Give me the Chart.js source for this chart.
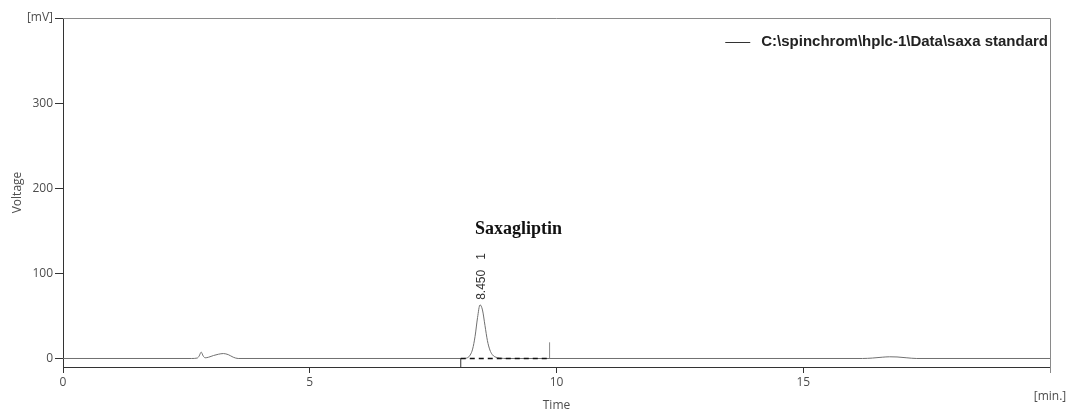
<!DOCTYPE html>
<html>
<head>
<meta charset="utf-8">
<script src="https://cdn.jsdelivr.net/npm/chart.js@4.4.0/dist/chart.umd.min.js"></script>
<style>
    html, body { margin: 0; padding: 0; background: #ffffff; }
    #wrap { width: 1072px; height: 413px; position: relative; }
</style>
</head>
<body>
<div id="wrap"><canvas id="chromato"></canvas></div>
<script>
const traceTime = [0, 2.6, 2.72, 2.76, 2.8, 2.84, 2.88, 2.95, 3.05, 3.15, 3.25, 3.35, 3.45, 3.55,
    8.1, 8.2, 8.25, 8.3, 8.35, 8.4, 8.45, 8.5, 8.55, 8.6, 8.65, 8.7, 8.75, 8.85, 9.0,
    16.2, 16.4, 16.6, 16.75, 16.9, 17.1, 17.3, 20];
const traceMv = [0, 0, 0.5, 3, 7.5, 3, 0.8, 1.5, 3.5, 5, 5.8, 4.5, 1.5, 0,
    0, 1, 4, 11, 26, 48, 63, 57, 39, 21, 10, 4.5, 2, 0.5, 0,
    0, 0.5, 1.5, 2, 1.8, 0.8, 0, 0];
const baselineTime = [8.06, 9.86];
const baselineMv = [0, 0];
const startMarkTime = [8.06, 8.06];
const startMarkMv = [-10, 0];
const endMarkTime = [9.86, 9.86];
const endMarkMv = [0, 19];
const xTicks = [0, 5, 10, 15, 20];
const yTicks = [0, 100, 200, 300, 400];
const peakName = 'Saxagliptin';
const peakTime = 8.45;
const peakLabel = '8.450';
const peakNumber = '1';
const seriesLabel = 'C:\\spinchrom\\hplc-1\\Data\\saxa standard';

const toPoints = (xs, ys) => xs.map((x, i) => ({ x: x, y: ys[i] }));

const tickFont = { family: '"Open Sans", sans-serif', size: 12 };
const tickColor = '#4d4d4d';
const axisColor = '#333333';

// ── Cadre, légende et annotation du pic ─────────────────
const decorPlugin = {
    id: 'decor',
    afterDraw(chart) {
        const ctx = chart.ctx;
        const ca = chart.chartArea;
        const xs = chart.scales.x;
        const ys = chart.scales.y;
        ctx.save();

        // cadre haut / droite
        ctx.strokeStyle = '#8a8a8a';
        ctx.lineWidth = 1;
        ctx.beginPath();
        ctx.moveTo(ca.left, ca.top + 0.5);
        ctx.lineTo(ca.right + 0.5, ca.top + 0.5);
        ctx.lineTo(ca.right + 0.5, ca.bottom + 6);
        ctx.stroke();

        // légende
        ctx.font = 'bold 15px "Liberation Sans", Arial, sans-serif';
        ctx.fillStyle = '#222222';
        ctx.textAlign = 'right';
        ctx.textBaseline = 'middle';
        const textRight = ca.right - 2;
        const ly = ca.top + 24;
        ctx.fillText(seriesLabel, textRight, ly);
        const textLeft = textRight - ctx.measureText(seriesLabel).width;
        ctx.strokeStyle = '#333333';
        ctx.beginPath();
        ctx.moveTo(textLeft - 36, ly + 0.5);
        ctx.lineTo(textLeft - 11, ly + 0.5);
        ctx.stroke();

        // annotation du pic
        const px = xs.getPixelForValue(peakTime);
        const top = ys.getPixelForValue(Math.max(...traceMv));
        ctx.save();
        ctx.translate(px + 2, top - 5);
        ctx.rotate(-Math.PI / 2);
        ctx.font = '12px "Liberation Sans", Arial, sans-serif';
        ctx.fillStyle = '#333333';
        ctx.textAlign = 'left';
        ctx.textBaseline = 'middle';
        ctx.fillText(peakLabel, 0, 0);
        const w = ctx.measureText(peakLabel).width;
        ctx.fillText(peakNumber, w + 10, 0);
        ctx.restore();

        ctx.font = 'bold 18px "Liberation Serif", "Times New Roman", serif';
        ctx.fillStyle = '#111111';
        ctx.textAlign = 'left';
        ctx.textBaseline = 'alphabetic';
        ctx.fillText(peakName, px - 5, top - 71);

        ctx.restore();
    }
};

new Chart(document.getElementById('chromato'), {
    type: 'line',
    data: {
        datasets: [
            {
                label: seriesLabel,
                data: toPoints(traceTime, traceMv),
                borderColor: '#707070',
                borderWidth: 1,
                cubicInterpolationMode: 'monotone',
                pointRadius: 0,
                order: 4
            },
            {
                label: 'baseline',
                data: toPoints(baselineTime, baselineMv),
                borderColor: '#111111',
                borderWidth: 1.5,
                borderDash: [5, 4],
                pointRadius: 0,
                order: 1
            },
            {
                label: 'start',
                data: toPoints(startMarkTime, startMarkMv),
                borderColor: '#333333',
                borderWidth: 1,
                pointRadius: 0,
                clip: false,
                order: 2
            },
            {
                label: 'end',
                data: toPoints(endMarkTime, endMarkMv),
                borderColor: '#8a8a8a',
                borderWidth: 1,
                pointRadius: 0,
                order: 3
            }
        ]
    },
    options: {
        animation: false,
        responsive: true,
        maintainAspectRatio: false,
        layout: { padding: { top: 18, right: 22, left: 0, bottom: 0 } },
        plugins: { legend: { display: false }, tooltip: { enabled: false } },
        scales: {
            x: {
                type: 'linear',
                min: 0,
                max: 20,
                afterBuildTicks: (s) => { s.ticks = xTicks.map(v => ({ value: v })); },
                afterFit: (s) => { s.height = 46; },
                ticks: {
                    autoSkip: false,
                    maxRotation: 0,
                    padding: 2,
                    font: tickFont,
                    color: tickColor,
                    callback: (v) => v === 20 ? ['', '[min.]'] : v
                },
                grid: { drawOnChartArea: false, tickLength: 6, color: axisColor },
                border: { color: axisColor, width: 1 },
                title: { display: true, text: 'Time', font: tickFont, color: tickColor, padding: { top: 0, bottom: 0 } }
            },
            y: {
                type: 'linear',
                min: -10,
                max: 400,
                afterBuildTicks: (s) => { s.ticks = yTicks.map(v => ({ value: v })); },
                afterFit: (s) => { s.width = 63; },
                ticks: {
                    padding: 2,
                    font: tickFont,
                    color: tickColor,
                    callback: (v) => v === 400 ? '[mV]' : v
                },
                grid: { drawOnChartArea: false, tickLength: 8, color: axisColor },
                border: { color: axisColor, width: 1 },
                title: { display: true, text: 'Voltage', font: tickFont, color: tickColor, padding: { top: 10, bottom: 0 } }
            }
        }
    },
    plugins: [decorPlugin]
});
</script>
</body>
</html>
